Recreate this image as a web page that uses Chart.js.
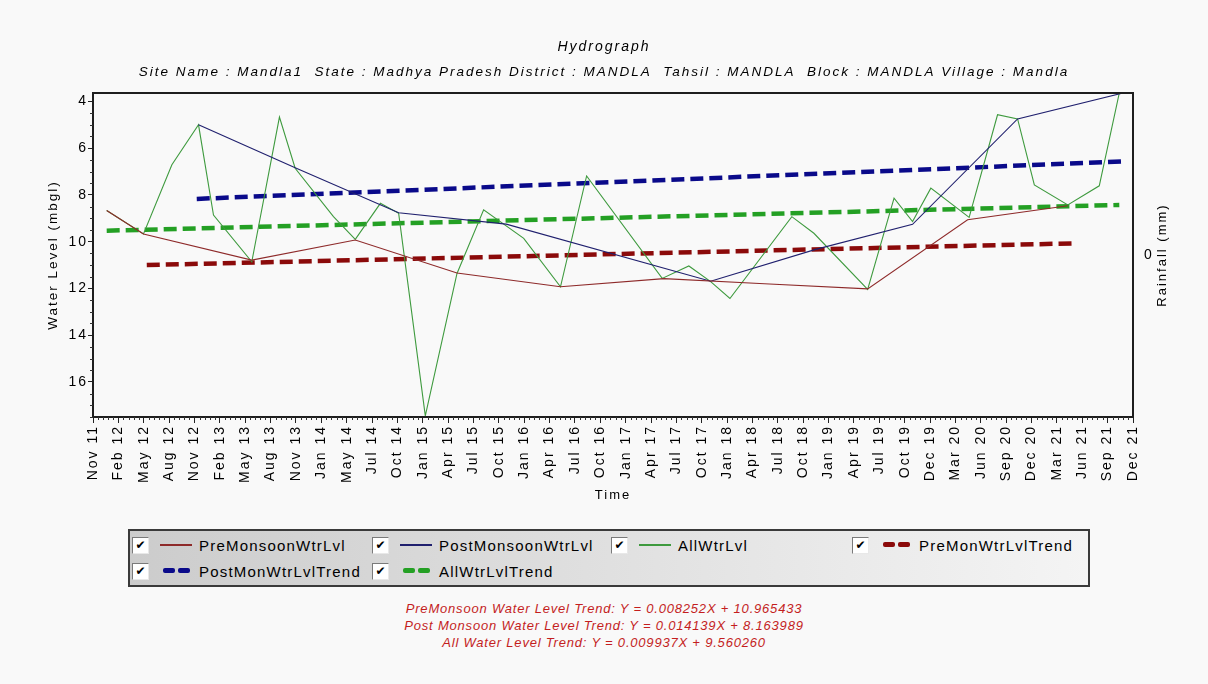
<!DOCTYPE html>
<html>
<head>
<meta charset="utf-8">
<title>Hydrograph - Mandla1</title>
<script src="https://cdn.jsdelivr.net/npm/chart.js@4.4.1/dist/chart.umd.min.js"></script>
<style>
  html, body { margin:0; padding:0; background:#f9f9f9; }
  #wrap { position:relative; width:1208px; height:684px; font-family:"Liberation Sans", Arial, sans-serif; }
  #hydroChart { position:absolute; left:0; top:0; }
  #legendBox { position:absolute; left:128px; top:529px; width:958px; height:54px; border:2px solid #3a3a3a;
    background:linear-gradient(to right, #cccccc, #f4f4f4); }
  .lg-item { position:absolute; height:20px; display:flex; align-items:center; }
  .lg-check { width:15px; height:15px; background:#fff; border:1px solid; border-color:#7a7a7a #e8e8e8 #e8e8e8 #7a7a7a;
    font-family:"DejaVu Sans", sans-serif; font-size:12px; line-height:15px; text-align:center; color:#000; }
  .lg-sample { position:relative; width:32px; height:6px; margin-left:11px; }
  .lg-sample span { position:absolute; display:block; }
  .lg-text { margin-left:7px; font-size:15px; letter-spacing:1.2px; color:#000; white-space:nowrap; }
  #equations { position:absolute; left:0; top:600px; width:1208px; text-align:center; font-style:italic;
    font-size:13px; line-height:17px; letter-spacing:0.8px; color:#c41e1e; }
</style>
</head>
<body>
<div id="wrap">
  <canvas id="hydroChart" width="1208" height="510"></canvas>
  <div id="legendBox"></div>
  <div id="equations"></div>
</div>
<script>
'use strict';

// tick labels along the time axis (one per major tick)
const timeLabels = ['Nov 11','Feb 12','May 12','Aug 12','Nov 12','Feb 13','May 13','Aug 13','Nov 13','Jan 14',
  'May 14','Jul 14','Oct 14','Jan 15','Apr 15','Jul 15','Oct 15','Jan 16','Apr 16','Jul 16','Oct 16','Jan 17',
  'Apr 17','Jul 17','Oct 17','Jan 18','Apr 18','Jul 18','Oct 18','Jan 19','Apr 19','Jul 19','Oct 19','Dec 19',
  'Mar 20','Jun 20','Sep 20','Dec 20','Mar 21','Jun 21','Sep 21','Dec 21'];
const levelTicks = [4, 6, 8, 10, 12, 14, 16];
const rainfallTicks = [0];

// x values are positions on the time axis, in tick steps
const preX   = [0.54, 1.99, 6.26, 10.34, 14.35, 18.43, 22.51, 26.47, 30.54, 34.48, 38.43];
const preLvl = [8.67, 9.67, 10.79, 9.93, 11.34, 11.93, 11.58, 11.8, 12.02, 9.06, 8.46];

const postX   = [4.16, 7.97, 12.05, 16.29, 24.35, 28.49, 32.31, 36.45, 40.53];
const postLvl = [5.0, 6.84, 8.76, 9.25, 11.69, 10.33, 9.26, 4.75, 3.66];

const allX   = [0.54, 1.99, 3.11, 4.16, 4.75, 6.26, 7.35, 7.97, 9.48, 10.34, 11.33, 12.05, 13.10, 14.35, 15.40,
  16.98, 18.43, 19.46, 22.44, 23.49, 24.35, 25.11, 27.55, 28.42, 30.54, 31.58, 32.31, 33.03, 34.54, 35.66,
  36.45, 37.11, 38.43, 39.67, 40.46];
const allLvl = [8.67, 9.67, 6.71, 5.0, 8.86, 10.86, 4.67, 6.86, 8.93, 9.9, 8.36, 8.79, 17.45, 11.36, 8.64,
  9.86, 11.93, 7.19, 11.57, 11.04, 11.71, 12.43, 8.93, 9.64, 12.04, 8.14, 9.14, 7.71, 8.96, 4.57,
  4.75, 7.57, 8.43, 7.61, 3.64];

// trend lines: start and end points
const preTrendX = [2.12, 38.69],  preTrendLvl = [11.0, 10.07];
const postTrendX = [4.09, 40.53], postTrendLvl = [8.17, 6.57];
const allTrendX = [0.54, 40.46],  allTrendLvl = [9.53, 8.43];

const siteLine = 'Site Name : Mandla1  State : Madhya Pradesh District : MANDLA  Tahsil : MANDLA  Block : MANDLA Village : Mandla';
const trendEquations = [
  'PreMonsoon Water Level Trend: Y = 0.008252X + 10.965433',
  'Post Monsoon Water Level Trend: Y = 0.014139X + 8.163989',
  'All Water Level Trend: Y = 0.009937X + 9.560260'
];

function el(id){ return document.getElementById(id); }
function pts(xs, ys){ return xs.map((x, i) => ({ x: x, y: ys[i] })); }

function thinLine(label, xs, ys, color){
  return { label, data: pts(xs, ys), borderColor: color, backgroundColor: color,
    borderWidth: 1.1, pointRadius: 0, tension: 0, fill: false };
}
function trendLine(label, xs, ys, color){
  return { label, data: pts(xs, ys), borderColor: color, backgroundColor: color, trend: true,
    borderWidth: 4.5, borderDash: [13, 6], pointRadius: 0, tension: 0, fill: false };
}

// frame, minor ticks and the right hand axis title
const hydroFrame = {
  id: 'hydroFrame',
  beforeDraw(chart){ chart.ctx.letterSpacing = '2px'; },
  afterDraw(chart){
    const { ctx, chartArea: a, scales } = chart;
    ctx.save();
    ctx.strokeStyle = '#1e1e1e';
    ctx.lineWidth = 2;
    ctx.strokeRect(a.left, a.top, a.right - a.left, a.bottom - a.top);

    ctx.lineWidth = 1;
    ctx.strokeStyle = '#333';
    ctx.beginPath();
    const xs = scales.x;
    const steps = Math.round((xs.max - xs.min) * 5);
    for(let i = 1; i < steps; i++){
      if(i % 5 === 0) continue;
      const px = Math.round(xs.getPixelForValue(xs.min + i / 5)) + 0.5;
      ctx.moveTo(px, a.bottom); ctx.lineTo(px, a.bottom + 3);
    }
    const ys = scales.y;
    for(let v = Math.ceil(ys.min * 2) / 2; v <= ys.max; v += 0.5){
      if(levelTicks.includes(v)) continue;
      const py = Math.round(ys.getPixelForValue(v)) + 0.5;
      ctx.moveTo(a.left - 3, py); ctx.lineTo(a.left, py);
    }
    ctx.stroke();

    ctx.fillStyle = '#000';
    ctx.font = '13px "Liberation Sans", Arial, sans-serif';
    ctx.textAlign = 'center';
    ctx.textBaseline = 'middle';
    ctx.translate(a.right + 29, (a.top + a.bottom) / 2);
    ctx.rotate(-Math.PI / 2);
    ctx.fillText('Rainfall (mm)', 0, 0);
    ctx.restore();
  }
};

Chart.defaults.font.family = '"Liberation Sans", Arial, sans-serif';
Chart.defaults.color = '#000';

const chart = new Chart(el('hydroChart').getContext('2d'), {
  type: 'line',
  data: {
    datasets: [
      thinLine('PreMonsoonWtrLvl', preX, preLvl, '#8e2a2a'),
      thinLine('PostMonsoonWtrLvl', postX, postLvl, '#20206e'),
      thinLine('AllWtrLvl', allX, allLvl, '#3e9a3e'),
      trendLine('PreMonWtrLvlTrend', preTrendX, preTrendLvl, '#8b0a0a'),
      trendLine('PostMonWtrLvlTrend', postTrendX, postTrendLvl, '#0a0a8a'),
      trendLine('AllWtrLvlTrend', allTrendX, allTrendLvl, '#24a024')
    ]
  },
  options: {
    responsive: false,
    animation: false,
    devicePixelRatio: 1,
    layout: { padding: 0 },
    plugins: {
      legend: { display: false },
      tooltip: { enabled: false },
      title: { display: true, text: 'Hydrograph', color: '#000',
        font: { size: 14, style: 'italic', weight: 'normal' }, padding: { top: 38.9, bottom: 5 } },
      subtitle: { display: true, text: siteLine, color: '#000',
        font: { size: 13.5, style: 'italic', weight: 'normal' }, padding: { top: 3.2, bottom: 12.9 } }
    },
    scales: {
      x: {
        type: 'linear', position: 'bottom', min: 0, max: timeLabels.length - 1,
        afterBuildTicks: s => { s.ticks = timeLabels.map((_, i) => ({ value: i })); },
        afterFit: s => { s.height = 93; },
        border: { display: false },
        grid: { drawOnChartArea: false, drawTicks: true, tickLength: 6, color: '#222' },
        ticks: { autoSkip: false, minRotation: 90, maxRotation: 90, padding: 2, font: { size: 14 },
          callback: v => timeLabels[Math.round(v)] || '' },
        title: { display: true, text: 'Time', font: { size: 13 }, padding: { top: 0, bottom: 7 } }
      },
      y: {
        type: 'linear', position: 'left', reverse: true, min: 3.64, max: 17.5,
        afterBuildTicks: s => { s.ticks = levelTicks.map(v => ({ value: v })); },
        afterFit: s => { s.width = 93; },
        border: { display: false },
        grid: { drawOnChartArea: false, drawTicks: true, tickLength: 5, color: '#222' },
        ticks: { padding: 0, font: { size: 14 } },
        title: { display: true, text: 'Water Level (mbgl)', font: { size: 13.5 }, padding: { top: 45.6 } }
      },
      rain: {
        type: 'linear', position: 'right', min: -1, max: 1,
        afterBuildTicks: s => { s.ticks = rainfallTicks.map(v => ({ value: v })); },
        afterFit: s => { s.width = 75; },
        border: { display: false },
        grid: { display: false },
        ticks: { padding: 3, font: { size: 14 } }
      }
    }
  },
  plugins: [hydroFrame]
});

// legend with check boxes, built from the chart datasets
function buildLegend(c){
  const box = el('legendBox');
  const slots = [[2, 4], [242, 4], [481, 4], [722, 4], [2, 30], [242, 30]];
  c.data.datasets.forEach((ds, i) => {
    const item = document.createElement('div');
    item.className = 'lg-item';
    item.style.left = slots[i][0] + 'px';
    item.style.top = slots[i][1] + 'px';

    const chk = document.createElement('div');
    chk.className = 'lg-check';
    chk.textContent = '\u2714';

    const sample = document.createElement('div');
    sample.className = 'lg-sample';
    if(ds.trend){
      [3, 18].forEach(left => {
        const d = document.createElement('span');
        d.style.cssText = 'left:' + left + 'px;top:0;width:12px;height:5px;border-radius:2px;background:' + ds.borderColor;
        sample.appendChild(d);
      });
    }else{
      const d = document.createElement('span');
      d.style.cssText = 'left:0;top:2px;width:32px;height:1.5px;background:' + ds.borderColor;
      sample.appendChild(d);
    }

    const txt = document.createElement('div');
    txt.className = 'lg-text';
    txt.textContent = ds.label;

    item.appendChild(chk);
    item.appendChild(sample);
    item.appendChild(txt);
    box.appendChild(item);
  });
}

buildLegend(chart);
el('equations').innerHTML = trendEquations.map(t => '<div>' + t + '</div>').join('');
</script>
</body>
</html>
